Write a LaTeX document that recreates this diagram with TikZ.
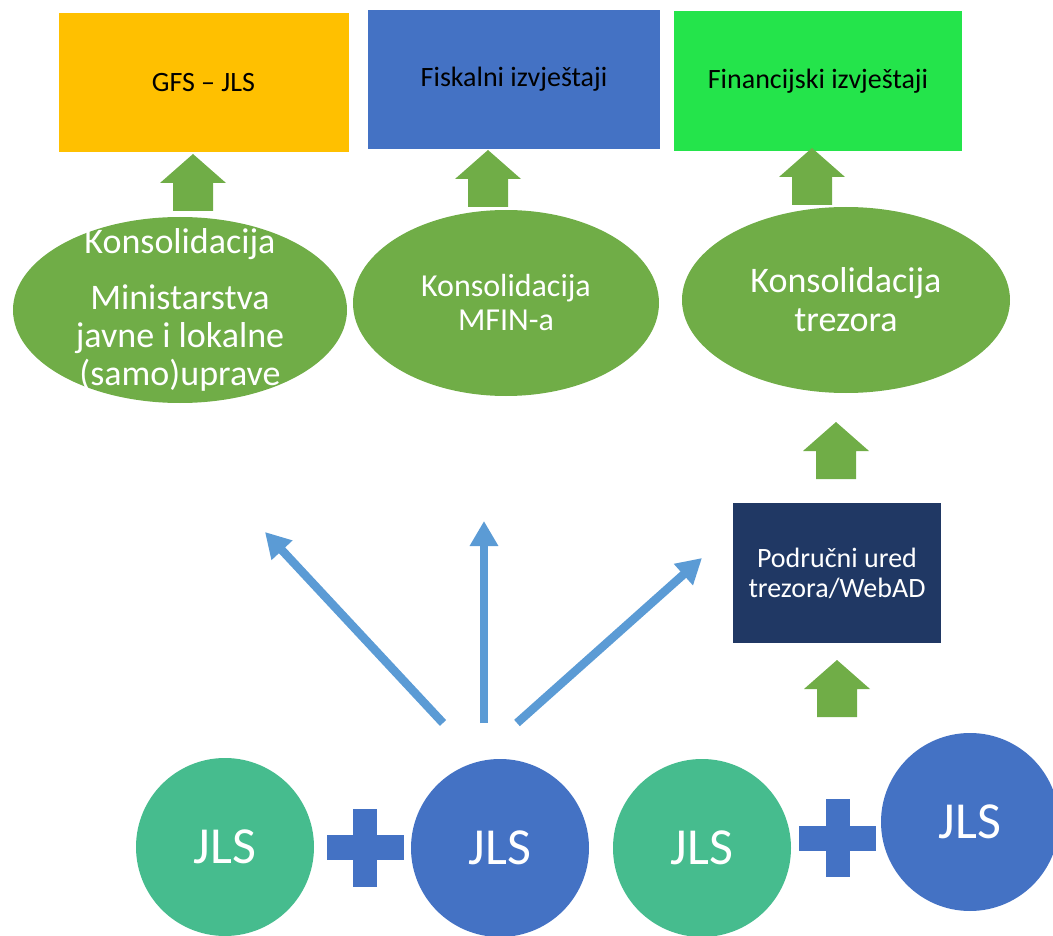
\documentclass[tikz,border=0pt]{standalone}
\usepackage{fontspec}
\setmainfont{Carlito}
\usetikzlibrary{shapes.geometric,arrows.meta}
\definecolor{gold}{HTML}{FFC000}
\definecolor{steel}{HTML}{4472C4}
\definecolor{lime}{HTML}{24E44B}
\definecolor{leaf}{HTML}{70AD47}
\definecolor{navy}{HTML}{203864}
\definecolor{jade}{HTML}{46BC8E}
\definecolor{sky}{HTML}{5B9BD5}

\begin{document}
\begin{tikzpicture}[x=1pt, y=-1pt,
	box/.style={rectangle, inner sep=0pt, minimum width=290pt, minimum height=139pt, font=\fontsize{28}{32}\selectfont},
	oval/.style={ellipse, fill=leaf, inner sep=0pt, minimum height=186pt},
	ovaltxt/.style={align=center, text=white, inner sep=0pt},
	jls/.style={circle, inner sep=0pt, minimum size=178pt, text=white, font=\fontsize{52}{60}\selectfont},
	upblk/.pic={\fill[leaf] (0,0) -- (33,29) -- (20,29) -- (20,57) -- (-20,57) -- (-20,29) -- (-33,29) -- cycle;},
	plus/.pic={\fill[steel] (-12,-39) rectangle (12,39); \fill[steel] (-38.5,-12.5) rectangle (38.5,12.5);},
	flow/.style={draw=sky, line width=8.5pt, -{Triangle[length=25pt,width=27pt]}}]
		\useasboundingbox (0,0) rectangle (1053,936);

		% top row
		\node[box, fill=gold] (gfs) at (203.5,82.5) {GFS – JLS};
		\node[box, fill=steel, minimum width=292pt] (fisk) at (514,79.5) {Fiskalni izvještaji};
		\node[box, fill=lime, minimum width=288pt, minimum height=140pt] (fin) at (818,81) {Financijski izvještaji};

		% consolidations
		\node[oval, minimum width=334pt] (k1) at (180,310) {};
		\node[oval, minimum width=306pt] (k2) at (506,303) {};
		\node[oval, minimum width=328pt] (k3) at (846,300) {};
		\node[ovaltxt, font=\fontsize{36}{38}\selectfont] (k1t) at (k1) {Konsolidacija\\[18pt] Ministarstva\\ javne i lokalne\\ (samo)uprave};
		\node[ovaltxt, font=\fontsize{32}{34}\selectfont] (k2t) at (k2) {Konsolidacija\\ MFIN-a};
		\node[ovaltxt, font=\fontsize{36}{39}\selectfont] (k3t) at (k3) {Konsolidacija\\ trezora};

		\pic at (193,154) {upblk};
		\pic at (488,150) {upblk};
		\pic at (812,148) {upblk};

		% treasury office
		\node[rectangle, fill=navy, inner sep=0pt, minimum width=208pt, minimum height=140pt, align=center, text=white, font=\fontsize{28}{30}\selectfont] (ured) at (837,573) {Područni ured\\ trezora/WebAD};
		\pic at (836,422) {upblk};
		\pic at (837,660) {upblk};

		% local units
		\node[jls, fill=jade] (j1) at (225,847) {JLS};
		\node[jls, fill=steel] (j2) at (500,848) {JLS};
		\node[jls, fill=jade] (j3) at (702,848) {JLS};
		\node[jls, fill=steel] (j4) at (970,822) {JLS};
		\pic at (365,847.5) {plus};
		\pic at (837.5,838) {plus};

		\coordinate (s1) at (443,723);
		\coordinate (s2) at (484,723);
		\coordinate (s3) at (517,723);
		\coordinate (t1) at (265,532);
		\coordinate (t2) at (484,521);
		\coordinate (t3) at (702,558);
		\draw[flow] (s1) -- (t1);
		\draw[flow] (s2) -- (t2);
		\draw[flow] (s3) -- (t3);

	\end{tikzpicture}
\end{document}
